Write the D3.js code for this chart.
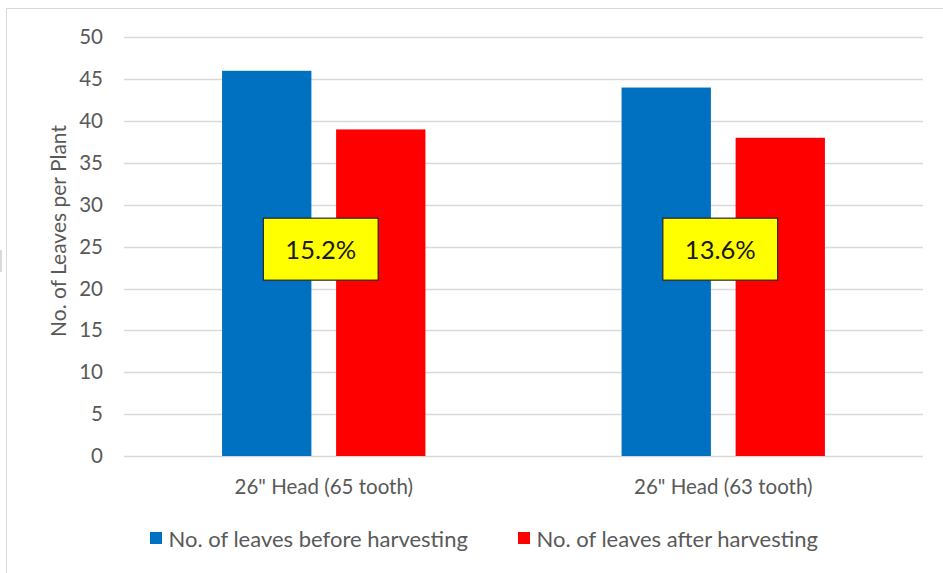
<!DOCTYPE html>
<html>
<head>
<meta charset="utf-8">
<script src="https://cdn.jsdelivr.net/npm/d3@7"></script>
<style>
  html, body { margin: 0; padding: 0; background: #fff; }
  svg { display: block; font-family: Lato, "Liberation Sans", sans-serif; }
</style>
</head>
<body>
<svg id="chart" width="943" height="573"></svg>
<script>
// Leaf counts per plant for two header configurations
const categories = ['26" Head (65 tooth)', '26" Head (63 tooth)'];
const seriesNames = ["No. of leaves before harvesting", "No. of leaves after harvesting"];
const beforeHarvest = [46, 44];
const afterHarvest = [39, 38];
const yTicks = [0, 5, 10, 15, 20, 25, 30, 35, 40, 45, 50];
const yTitle = "No. of Leaves per Plant";

const colors = ["#0070c0", "#ff0000"];
const textColor = "#595959";

const svg = d3.select("#chart");
const plot = { left: 124, right: 923, top: 37.3, bottom: 456 };

// chart frame
svg.append("rect")
  .attr("x", 6.5).attr("y", 8.5)
  .attr("width", 1000).attr("height", 1000)
  .attr("fill", "#fff").attr("stroke", "#d9d9d9").attr("stroke-width", 1);

const rows = categories.map((c, i) => ({
  category: c,
  values: [beforeHarvest[i], afterHarvest[i]]
}));

const x0 = d3.scaleBand().domain(categories).range([plot.left, plot.right]).padding(0);
const x1 = d3.scaleBand().domain(seriesNames).range([0, x0.bandwidth()])
  .paddingInner(0.2167).paddingOuter(0.86);
const y = d3.scaleLinear().domain([0, 50]).range([plot.bottom, plot.top]);

// gridlines
svg.append("g")
  .selectAll("line")
  .data(yTicks)
  .join("line")
  .attr("x1", plot.left).attr("x2", plot.right)
  .attr("y1", d => Math.round(y(d)) + 0.5).attr("y2", d => Math.round(y(d)) + 0.5)
  .attr("stroke", "#d9d9d9").attr("stroke-width", 1.3);

// y axis labels
const yAxis = d3.axisLeft(y).tickValues(yTicks).tickSize(0).tickPadding(0);
const gy = svg.append("g").attr("transform", "translate(103,0)").call(yAxis);
gy.select(".domain").remove();
gy.selectAll("text")
  .attr("fill", textColor)
  .style("font-size", "20.5px")
  .style("font-family", "Lato, sans-serif");

// y axis title
svg.append("text")
  .attr("transform", `translate(57,${231}) rotate(-90)`)
  .attr("text-anchor", "middle")
  .attr("dominant-baseline", "central")
  .attr("fill", textColor)
  .style("font-size", "21px")
  .text(yTitle);

// bars
const groups = svg.append("g")
  .selectAll("g")
  .data(rows)
  .join("g")
  .attr("transform", d => `translate(${x0(d.category)},0)`);

groups.selectAll("rect")
  .data(d => d.values.map((v, i) => ({ name: seriesNames[i], value: v, i })))
  .join("rect")
  .attr("x", d => x1(d.name))
  .attr("width", x1.bandwidth())
  .attr("y", d => y(d.value))
  .attr("height", d => y(0) - y(d.value))
  .attr("fill", d => colors[d.i]);

// x axis category labels
const xAxis = d3.axisBottom(x0).tickSize(0).tickPadding(0);
const gx = svg.append("g").attr("transform", `translate(0,${plot.bottom + 24})`).call(xAxis);
gx.select(".domain").remove();
gx.selectAll("text")
  .attr("fill", textColor)
  .attr("dy", "0.32em")
  .attr("y", 7)
  .style("font-size", "20.5px")
  .style("font-family", "Lato, sans-serif");

// reduction callouts (percentage drop from before to after)
const callouts = groups.append("g")
  .attr("transform", d => `translate(${x0.bandwidth() / 2 - 3},${y(24.7)})`);

callouts.each(function(d) {
  const g = d3.select(this);
  const pct = ((d.values[0] - d.values[1]) / d.values[0] * 100).toFixed(1) + "%";
  const t = g.append("text")
    .attr("text-anchor", "middle")
    .attr("dominant-baseline", "central")
    .attr("fill", "#1a1a1a")
    .style("font-size", "25.5px")
    .text(pct);
  const w = t.node().getComputedTextLength() + 44;
  g.insert("rect", "text")
    .attr("x", -w / 2).attr("y", -31)
    .attr("width", w).attr("height", 62)
    .attr("fill", "#ffff00")
    .attr("stroke", "#262626").attr("stroke-width", 1.2);
});

// legend
const legendItems = [
  { name: seriesNames[0], color: colors[0], x: 150 },
  { name: seriesNames[1], color: colors[1], x: 518 }
];
const lg = svg.append("g").selectAll("g").data(legendItems).join("g")
  .attr("transform", d => `translate(${d.x},538)`);
lg.append("rect")
  .attr("x", 0).attr("y", -6).attr("width", 12).attr("height", 12)
  .attr("fill", d => d.color);
lg.append("text")
  .attr("x", 18.5)
  .attr("dominant-baseline", "central")
  .attr("fill", textColor)
  .style("font-size", "22px")
  .text(d => d.name);

// small mark on the left edge
svg.append("rect").attr("x", 0).attr("y", 250).attr("width", 2).attr("height", 22).attr("fill", "#d9d9d9");
</script>
</body>
</html>
